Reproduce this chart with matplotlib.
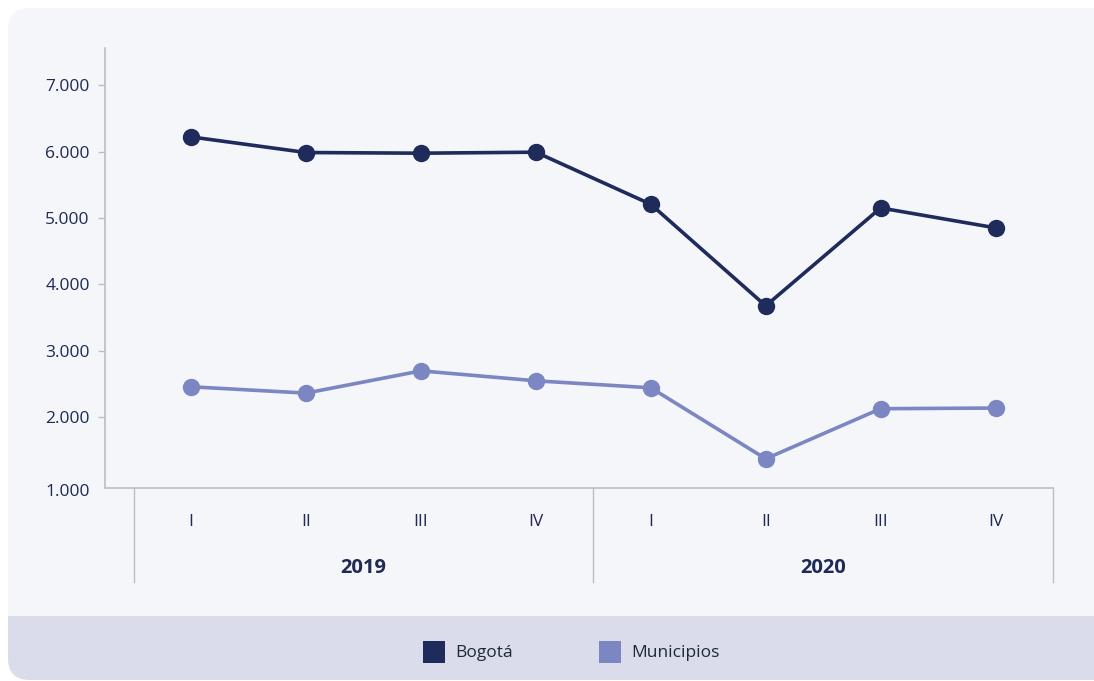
import matplotlib.pyplot as plt
import matplotlib.transforms as mtransforms
from matplotlib.patches import FancyBboxPatch, Rectangle

# data
quarters = ["I", "II", "III", "IV", "I", "II", "III", "IV"]
years = ["2019", "2020"]
bogota = [6220, 5985, 5975, 5990, 5205, 3675, 5150, 4850]
municipios = [2455, 2360, 2695, 2545, 2440, 1370, 2125, 2135]
yticks = [1000, 2000, 3000, 4000, 5000, 6000, 7000]

c_bog = "#1e2b5b"
c_mun = "#7b86c2"
c_text = "#1e2a55"
c_card = "#f5f6fa"
c_band = "#dadbeb"
c_axis = "#bdbdc3"

plt.rcParams['font.family'] = ['Open Sans', 'DejaVu Sans']

W, H = 1094, 681
fig = plt.figure(figsize=(W / 100, H / 100), dpi=100)
fig.patch.set_facecolor("white")

# background card drawn in pixel coords
bg = fig.add_axes([0, 0, 1, 1])
bg.set_xlim(0, W)
bg.set_ylim(H, 0)
bg.axis("off")
bg.add_patch(FancyBboxPatch((8, 8), W + 40, 672, boxstyle="round,pad=0,rounding_size=22",
                            facecolor=c_card, edgecolor="none"))
bg.add_patch(FancyBboxPatch((8, 616), W + 40, 64, boxstyle="round,pad=0,rounding_size=22",
                            facecolor=c_band, edgecolor="none"))
bg.add_patch(Rectangle((8, 616), W, 30, facecolor=c_band, edgecolor="none"))

# legend
bg.add_patch(Rectangle((423, 641), 22, 22, facecolor=c_bog, edgecolor="none"))
bg.text(455, 653, "Bogotá", fontsize=12.5, color="#1c2a38", va="center", ha="left")
bg.add_patch(Rectangle((599, 641), 22, 22, facecolor=c_mun, edgecolor="none"))
bg.text(631, 653, "Municipios", fontsize=12.5, color="#1c2a38", va="center", ha="left")

# main chart
left, right, top, bottom = 105, 1053, 48, 488
ax = fig.add_axes([left / W, 1 - bottom / H, (right - left) / W, (bottom - top) / H])
ax.set_facecolor("none")
x = list(range(len(quarters)))
ax.plot(x, municipios, color=c_mun, lw=2.6, marker="o", ms=11.5, zorder=3)
ax.plot(x, bogota, color=c_bog, lw=2.6, marker="o", ms=11.5, zorder=3)

ax.set_xlim(-0.75, 7.5)
ax.set_ylim(930, 7560)
ax.set_yticks(yticks)
ax.set_yticklabels([f"{v:,}".replace(",", ".") for v in yticks], fontsize=12.5, color=c_text)
ax.tick_params(axis="y", length=5, width=1, color=c_axis, pad=6)
# lowest label sits on the axis corner in the reference, no tick mark
first = ax.yaxis.get_major_ticks()[0]
first.tick1line.set_visible(False)
first.label1.set_transform(first.label1.get_transform() +
                           mtransforms.ScaledTranslation(0, -7 / 100, fig.dpi_scale_trans))
ax.set_xticks(x)
ax.set_xticklabels(quarters, fontsize=12.5, color=c_text)
ax.tick_params(axis="x", length=0, pad=19)

for s in ["top", "right"]:
    ax.spines[s].set_visible(False)
for s in ["left", "bottom"]:
    ax.spines[s].set_color(c_axis)
    ax.spines[s].set_linewidth(1.2)

trans = mtransforms.blended_transform_factory(ax.transData, ax.transAxes)
drop = (582 - bottom) / (bottom - top)
for xs in [-0.5, 3.5, 7.5]:
    ax.plot([xs, xs], [0, -drop], transform=trans, color=c_axis, lw=1, clip_on=False)
for i, yr in enumerate(years):
    ax.text(1.5 + 4 * i, -(568 - bottom) / (bottom - top), yr, transform=trans,
            ha="center", va="center", fontsize=14.5, fontweight="bold", color=c_text)

fig.savefig("out.png", dpi=100)
